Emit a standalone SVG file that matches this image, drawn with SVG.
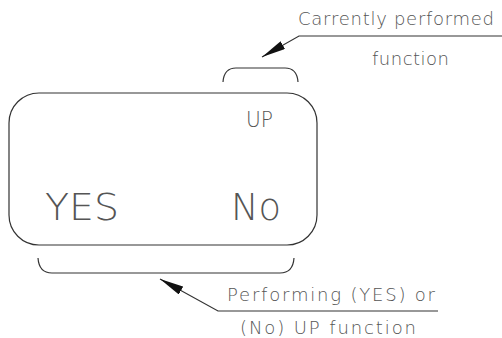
<svg xmlns="http://www.w3.org/2000/svg" width="502" height="338" viewBox="0 0 502 338">
<style>
.ln{fill:none;stroke:#333;stroke-width:1.2}
.t{font-family:"DejaVu Sans","Liberation Sans",sans-serif;font-weight:200;fill:#555}
</style>
<defs>
<marker id="ah" markerWidth="24" markerHeight="9" refX="24" refY="4.5" orient="auto" markerUnits="userSpaceOnUse">
<path d="M0,0 L24,4.5 L0,9 Z" fill="#111"/>
</marker>
</defs>
<rect width="502" height="338" fill="#fff"/>
<g id="display">
<rect class="ln" x="9" y="93" width="308" height="152" rx="30" ry="30"/>
<text class="t" x="246" y="127" font-size="21" textLength="27" lengthAdjust="spacingAndGlyphs">UP</text>
<text class="t" x="45" y="220" font-size="38" textLength="74" lengthAdjust="spacingAndGlyphs">YES</text>
<text class="t" x="231" y="220" font-size="38" textLength="50" lengthAdjust="spacingAndGlyphs">No</text>
</g>
<g id="bracket-top">
<path class="ln" d="M223,82 Q224,68 236,68 L285,68 Q297,68 298,82"/>
</g>
<g id="bracket-bottom">
<path class="ln" d="M38,258 Q39,273 52,273 L280,273 Q293,273 294,258"/>
</g>
<g id="label-top">
<text class="t" x="298" y="25" font-size="18" textLength="196" lengthAdjust="spacing">Carrently performed</text>
<text class="t" x="372" y="65" font-size="18" textLength="77" lengthAdjust="spacing">function</text>
</g>
<g id="label-bottom">
<text class="t" x="227" y="301" font-size="18" textLength="208" lengthAdjust="spacing">Performing (YES) or</text>
<text class="t" x="240" y="334" font-size="18" textLength="176" lengthAdjust="spacing">(No) UP function</text>
</g>
<g id="connectors">
<polyline class="ln" points="502,36 299,36 262,57" marker-end="url(#ah)"/>
<polyline class="ln" points="438,311 218,311 160,279" marker-end="url(#ah)"/>
</g>
</svg>
